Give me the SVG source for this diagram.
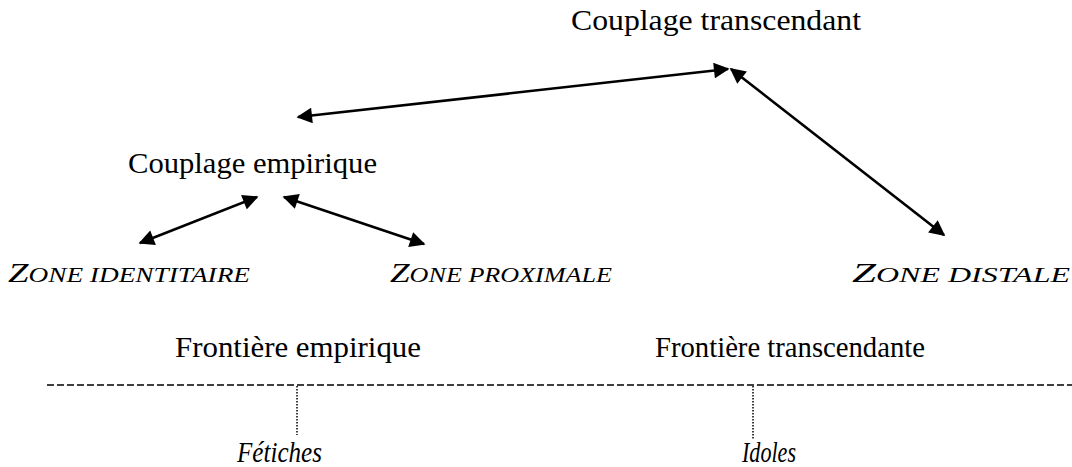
<svg xmlns="http://www.w3.org/2000/svg" width="1072" height="467" viewBox="0 0 1072 467">
<style>
.t{font-family:"Liberation Serif","DejaVu Serif",serif;fill:#000;font-size:30px}
.z{font-family:"Liberation Serif","DejaVu Serif",serif;fill:#000;font-style:italic;font-size:27px}
.z tspan.s{font-size:20px}
.i{font-family:"Liberation Serif","DejaVu Serif",serif;fill:#000;font-style:italic;font-size:30px}
.c{stroke:#000;stroke-width:2.6;fill:none;marker-start:url(#ah);marker-end:url(#ah)}
.dash{stroke:#000;stroke-width:1.6;stroke-dasharray:7 3;fill:none}
.dot{stroke:#000;stroke-width:1.5;stroke-dasharray:1.5 1.5;fill:none}
</style>
<defs>
<marker id="ah" viewBox="0 0 10 10" refX="9" refY="5" markerWidth="6.5" markerHeight="6" orient="auto-start-reverse" markerUnits="strokeWidth">
<path d="M0,0 L10,5 L0,10 Z" fill="#000"/>
</marker>
</defs>
<rect width="1072" height="467" fill="#fff"/>
<g id="couplage-transcendant"><text class="t" x="571" y="30" textLength="290" lengthAdjust="spacingAndGlyphs">Couplage transcendant</text></g>
<g id="couplage-empirique"><text class="t" x="128" y="173" textLength="249" lengthAdjust="spacingAndGlyphs">Couplage empirique</text></g>
<g id="zone-identitaire"><text class="z" x="8" y="282" textLength="242" lengthAdjust="spacingAndGlyphs">Z<tspan class="s">ONE IDENTITAIRE</tspan></text></g>
<g id="zone-proximale"><text class="z" x="390" y="282" textLength="222" lengthAdjust="spacingAndGlyphs">Z<tspan class="s">ONE PROXIMALE</tspan></text></g>
<g id="zone-distale"><text class="z" x="852" y="282" textLength="218" lengthAdjust="spacingAndGlyphs">Z<tspan class="s">ONE DISTALE</tspan></text></g>
<g id="frontiere-empirique"><text class="t" x="175" y="357" textLength="246" lengthAdjust="spacingAndGlyphs">Frontière empirique</text></g>
<g id="frontiere-transcendante"><text class="t" x="655" y="357" textLength="270" lengthAdjust="spacingAndGlyphs">Frontière transcendante</text></g>
<g id="fetiches"><text class="i" x="237" y="462" textLength="85" lengthAdjust="spacingAndGlyphs">Fétiches</text></g>
<g id="idoles"><text class="i" x="742" y="462" textLength="54" lengthAdjust="spacingAndGlyphs">Idoles</text></g>
<g id="connectors">
<line class="c" x1="298" y1="117" x2="728" y2="69"/>
<line class="c" x1="731" y1="69" x2="944" y2="235"/>
<line class="c" x1="140" y1="243" x2="257" y2="197"/>
<line class="c" x1="284" y1="197" x2="424" y2="244"/>
<line class="dash" x1="47" y1="385" x2="1072" y2="385"/>
<line class="dot" x1="297" y1="386" x2="297" y2="435"/>
<line class="dot" x1="753" y1="386" x2="753" y2="440"/>
</g>
</svg>
